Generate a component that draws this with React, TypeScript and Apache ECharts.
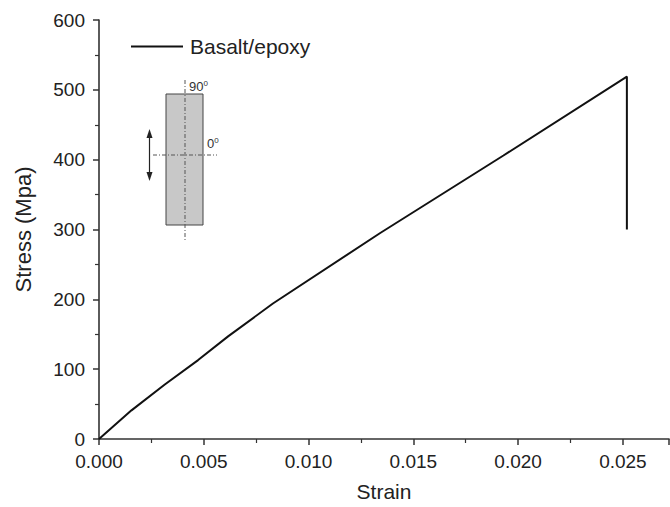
import React, { useEffect, useRef } from "react";
import * as echarts from "echarts";

const strain = [0, 0.00155, 0.00314, 0.00473, 0.00616, 0.0083, 0.01342, 0.0193, 0.02519, 0.02519];
const stress = [0, 41, 78, 113, 147, 194, 295, 406, 519, 300];
const seriesName = "Basalt/epoxy";
const xTicks = [0, 0.005, 0.01, 0.015, 0.02, 0.025];
const yTicks = [0, 100, 200, 300, 400, 500, 600];

const FONT = "'Liberation Sans', Arial, sans-serif";

export default function App() {
  const ref = useRef<HTMLDivElement>(null);
  useEffect(() => {
    const chart = echarts.init(ref.current!, null, { renderer: "svg" });
    const data = strain.map((s, i) => [s, stress[i]]);
    chart.setOption({
      animation: false,
      backgroundColor: "#fff",
      textStyle: { fontFamily: FONT },
      grid: { left: 99, top: 20, right: 1, bottom: 64, containLabel: false },
      legend: {
        show: true,
        left: 126,
        top: 31,
        itemWidth: 52,
        itemHeight: 14,
        itemGap: 10,
        textStyle: { fontSize: 21, color: "#222", fontFamily: FONT, padding: [0, 0, 0, 2] },
        data: [{ name: seriesName, icon: "path://M0,6 L52,6 L52,8 L0,8 Z" }],
      },
      xAxis: {
        type: "value",
        min: xTicks[0],
        max: 0.0272,
        interval: xTicks[1] - xTicks[0],
        name: "Strain",
        nameLocation: "middle",
        nameGap: 42,
        nameTextStyle: { fontSize: 21, color: "#222", fontFamily: FONT },
        axisLine: { show: true, lineStyle: { color: "#333", width: 1.6 } },
        axisTick: { show: true, inside: false, length: 6, lineStyle: { color: "#333", width: 1.5 } },
        minorTick: { show: true, splitNumber: 2, length: 4, lineStyle: { color: "#333", width: 1.2 } },
        splitLine: { show: false },
        axisLabel: {
          fontSize: 19,
          color: "#222",
          margin: 13,
          showMaxLabel: false,
          formatter: (v: number) => (xTicks.some((t) => Math.abs(t - v) < 1e-9) ? v.toFixed(3) : ""),
        },
      },
      yAxis: {
        type: "value",
        min: yTicks[0],
        max: yTicks[yTicks.length - 1],
        interval: yTicks[1] - yTicks[0],
        name: "Stress (Mpa)",
        nameLocation: "middle",
        nameGap: 65,
        nameRotate: 90,
        nameTextStyle: { fontSize: 22, color: "#222", fontFamily: FONT },
        axisLine: { show: true, lineStyle: { color: "#333", width: 1.6 } },
        axisTick: { show: true, inside: false, length: 6, lineStyle: { color: "#333", width: 1.5 } },
        minorTick: { show: true, splitNumber: 2, length: 4, lineStyle: { color: "#333", width: 1.2 } },
        splitLine: { show: false },
        axisLabel: { fontSize: 19, color: "#222", margin: 14 },
      },
      series: [
        {
          name: seriesName,
          type: "line",
          data,
          symbol: "none",
          smooth: false,
          lineStyle: { color: "#111", width: 2 },
          itemStyle: { color: "#111" },
        },
      ],
      graphic: [
        {
          type: "rect",
          shape: { x: 166, y: 94, width: 37, height: 131 },
          style: { fill: "#c8c8c8", stroke: "#444", lineWidth: 1 },
        },
        {
          type: "line",
          shape: { x1: 185, y1: 80, x2: 185, y2: 240 },
          style: { stroke: "#555", lineWidth: 1, lineDash: [4, 2, 1, 2] },
        },
        {
          type: "line",
          shape: { x1: 153, y1: 155, x2: 217, y2: 155 },
          style: { stroke: "#555", lineWidth: 1, lineDash: [4, 2, 1, 2] },
        },
        {
          type: "line",
          shape: { x1: 149.5, y1: 136, x2: 149.5, y2: 174 },
          style: { stroke: "#222", lineWidth: 1.2 },
        },
        {
          type: "polygon",
          shape: { points: [[149.5, 129], [146.5, 138], [152.5, 138]] },
          style: { fill: "#222" },
        },
        {
          type: "polygon",
          shape: { points: [[149.5, 181], [146.5, 172], [152.5, 172]] },
          style: { fill: "#222" },
        },
        {
          type: "text",
          x: 189,
          y: 79,
          style: {
            text: "90{s|0}",
            fontSize: 13,
            fill: "#333",
            fontFamily: FONT,
            rich: { s: { fontSize: 8, verticalAlign: "top", fill: "#333", padding: [0, 0, 6, 0] } },
          },
        },
        {
          type: "text",
          x: 207,
          y: 136,
          style: {
            text: "0{s|0}",
            fontSize: 13,
            fill: "#333",
            fontFamily: FONT,
            rich: { s: { fontSize: 8, verticalAlign: "top", fill: "#333", padding: [0, 0, 6, 0] } },
          },
        },
      ],
    });
    return () => chart.dispose();
  }, []);
  return (
    <div
      ref={ref}
      style={{ position: "absolute", left: 0, top: 0, width: 670, height: 507, background: "#fff" }}
    />
  );
}
